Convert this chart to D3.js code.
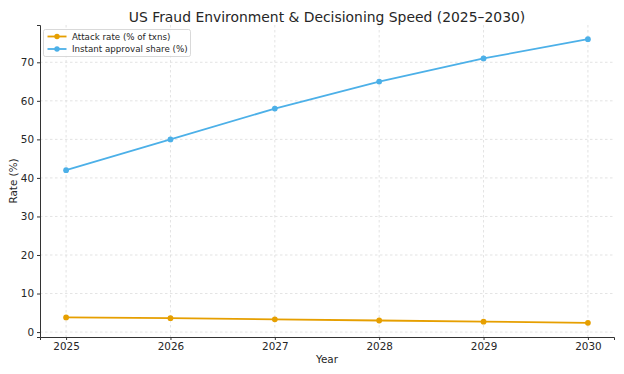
<!DOCTYPE html>
<html>
<head>
<meta charset="utf-8">
<script src="https://cdn.jsdelivr.net/npm/d3@7"></script>
<style>
  body { margin: 0; background: #fff; }
  svg { font-family: "DejaVu Sans", sans-serif; }
</style>
</head>
<body>
<svg id="chart" width="624" height="374"></svg>
<script>
// chart data
const years = [2025, 2026, 2027, 2028, 2029, 2030];
const attackRate = [3.8, 3.6, 3.3, 3.0, 2.7, 2.4];
const instantApproval = [42, 50, 58, 65, 71, 76];
const yTicks = [0, 10, 20, 30, 40, 50, 60, 70];

const seriesNames = ["Attack rate (% of txns)", "Instant approval share (%)"];
const seriesColors = ["#e69f00", "#4cb0e8"];

const WIDTH = 624;
const HEIGHT = 374;
const margin = { top: 25, right: 10, bottom: 37, left: 40 };

const TICK_FONT = 10.4;
const LABEL_FONT = 10.4;
const TITLE_FONT = 13.9;
const LEGEND_FONT = 8.7;

const svg = d3.select("#chart");

const allValues = attackRate.concat(instantApproval);
const yMin = d3.min(allValues);
const yMax = d3.max(allValues);
const yPad = (yMax - yMin) * 0.05;

const x = d3
  .scaleLinear()
  .domain([years[0] - 0.25, years.at(-1) + 0.25])
  .range([margin.left, WIDTH - margin.right]);

const y = d3
  .scaleLinear()
  .domain([yMin - yPad, yMax + yPad])
  .range([HEIGHT - margin.bottom, margin.top]);

// grid lines
const grid = svg.append("g").attr("stroke", "#dcdcdc").attr("stroke-width", 0.8)
  .attr("stroke-dasharray", "2.5,2.5");
grid.selectAll(".vx").data(years).join("line")
  .attr("x1", (d) => x(d)).attr("x2", (d) => x(d))
  .attr("y1", margin.top).attr("y2", HEIGHT - margin.bottom);
grid.selectAll(".hy").data(yTicks).join("line")
  .attr("y1", (d) => y(d)).attr("y2", (d) => y(d))
  .attr("x1", margin.left).attr("x2", WIDTH - margin.right);

// axes
const xAxis = svg.append("g")
  .attr("transform", `translate(0,${HEIGHT - margin.bottom})`)
  .call(d3.axisBottom(x).tickValues(years).tickFormat(d3.format("d")).tickSizeOuter(0).tickSize(3).tickPadding(3));
const yAxis = svg.append("g")
  .attr("transform", `translate(${margin.left},0)`)
  .call(d3.axisLeft(y).tickValues(yTicks).tickSizeOuter(0).tickSize(3).tickPadding(3));

[xAxis, yAxis].forEach((ax) => {
  ax.attr("font-size", TICK_FONT).attr("font-family", "DejaVu Sans, sans-serif");
  ax.selectAll("text").attr("fill", "#262626");
  ax.select(".domain").attr("stroke", "#333").attr("stroke-width", 1);
  ax.selectAll(".tick line").attr("stroke", "#333");
});

// series lines
const line = d3.line().x((d, i) => x(years[i])).y((d) => y(d));
[attackRate, instantApproval].forEach((values, k) => {
  svg.append("path")
    .datum(values)
    .attr("fill", "none")
    .attr("stroke", seriesColors[k])
    .attr("stroke-width", 1.8)
    .attr("d", line);
  svg.append("g").selectAll("circle").data(values).join("circle")
    .attr("cx", (d, i) => x(years[i]))
    .attr("cy", (d) => y(d))
    .attr("r", 2.9)
    .attr("fill", seriesColors[k]);
});

// title and axis labels
const midX = (margin.left + WIDTH - margin.right) / 2;
svg.append("text")
  .attr("x", midX)
  .attr("y", 22)
  .attr("text-anchor", "middle")
  .attr("font-size", TITLE_FONT)
  .attr("fill", "#262626")
  .text("US Fraud Environment & Decisioning Speed (2025–2030)");

svg.append("text")
  .attr("x", midX)
  .attr("y", 363)
  .attr("text-anchor", "middle")
  .attr("font-size", LABEL_FONT)
  .attr("fill", "#262626")
  .text("Year");

svg.append("text")
  .attr("transform", `translate(17,${(margin.top + HEIGHT - margin.bottom) / 2}) rotate(-90)`)
  .attr("text-anchor", "middle")
  .attr("font-size", LABEL_FONT)
  .attr("fill", "#262626")
  .text("Rate (%)");

// legend
const legend = svg.append("g").attr("transform", "translate(43.5,29.5)");
legend.append("rect")
  .attr("width", 147).attr("height", 27).attr("rx", 2)
  .attr("fill", "#fff").attr("fill-opacity", 0.85)
  .attr("stroke", "#cfcfcf").attr("stroke-width", 0.8);
seriesNames.forEach((name, k) => {
  const gy = 7 + k * 12.5;
  legend.append("line")
    .attr("x1", 4).attr("x2", 23).attr("y1", gy).attr("y2", gy)
    .attr("stroke", seriesColors[k]).attr("stroke-width", 1.8);
  legend.append("circle").attr("cx", 13.5).attr("cy", gy).attr("r", 2.7).attr("fill", seriesColors[k]);
  legend.append("text")
    .attr("x", 28.5).attr("y", gy + 3.2)
    .attr("font-size", LEGEND_FONT).attr("fill", "#262626")
    .text(name);
});
</script>
</body>
</html>
